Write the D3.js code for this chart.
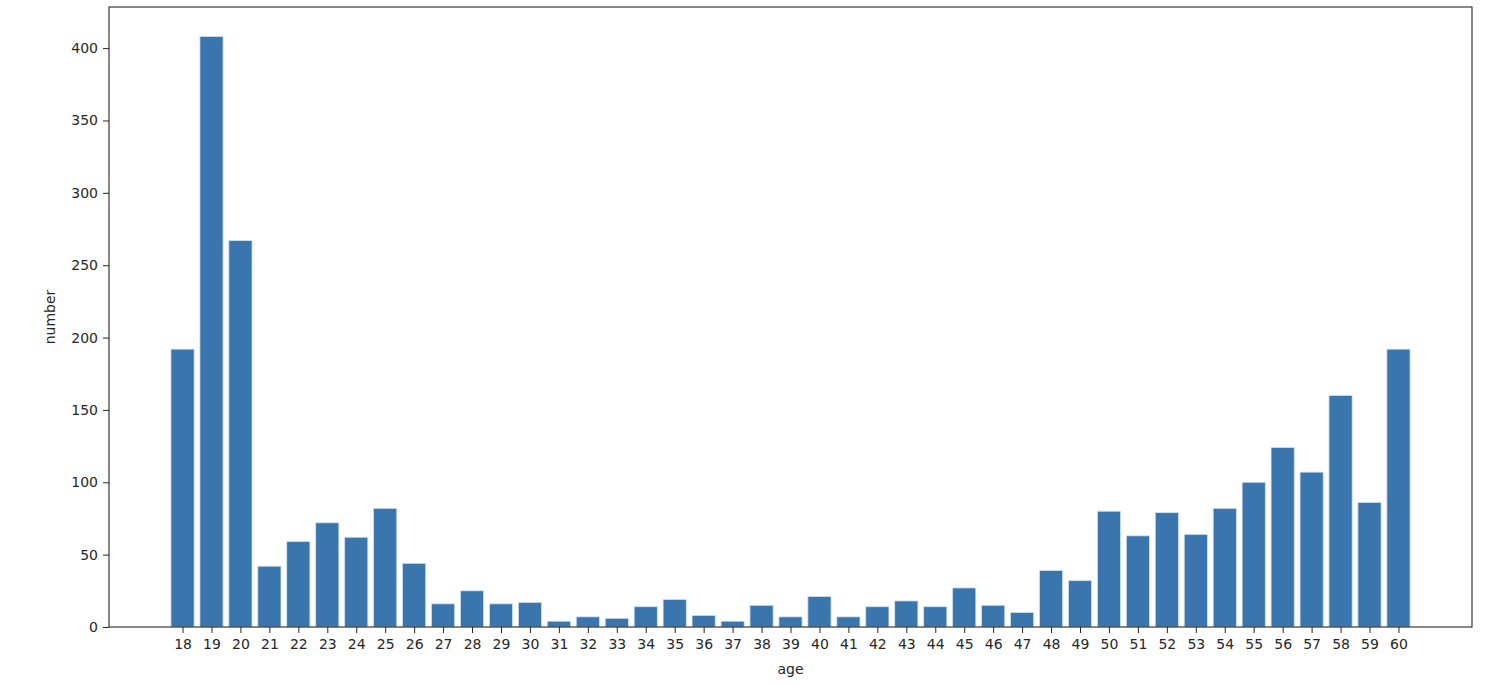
<!DOCTYPE html>
<html>
<head>
<meta charset="utf-8">
<script src="https://cdn.jsdelivr.net/npm/d3@7"></script>
<style>
  html, body { margin: 0; padding: 0; background: #fff; }
  svg text { font-family: "DejaVu Sans", sans-serif; fill: #262626; }
</style>
</head>
<body>
<svg id="chart" width="1504" height="686"></svg>
<script>
const ages = [18,19,20,21,22,23,24,25,26,27,28,29,30,31,32,33,34,35,36,37,38,39,40,41,42,43,44,45,46,47,48,49,50,51,52,53,54,55,56,57,58,59,60];
const counts = [192,408,267,42,59,72,62,82,44,16,25,16,17,4,7,6,14,19,8,4,15,7,21,7,14,18,14,27,15,10,39,32,80,63,79,64,82,100,124,107,160,86,192];
const yTicks = [0,50,100,150,200,250,300,350,400];
const xLabel = "age";
const yLabel = "number";

(function () {
const svg = d3.select("#chart");
const mLeft = 109, mRight = 1472, mTop = 7, mBottom = 627;
const barW = 0.8;

const xMin = d3.min(ages) - barW/2, xMax = d3.max(ages) + barW/2;
const xPad = (xMax - xMin) * 0.05;
const x = d3.scaleLinear().domain([xMin - xPad, xMax + xPad]).range([mLeft, mRight]);
const y = d3.scaleLinear().domain([0, d3.max(counts) * 1.05]).range([mBottom, mTop]);

const data = ages.map((a, i) => ({age: a, n: counts[i]}));

svg.append("g").selectAll("rect").data(data).enter().append("rect")
  .attr("x", d => x(d.age - barW/2))
  .attr("width", d => x(d.age + barW/2) - x(d.age - barW/2))
  .attr("y", d => y(d.n))
  .attr("height", d => y(0) - y(d.n))
  .attr("fill", "#3a75ae")
  .attr("stroke", "#cfe0f0")
  .attr("stroke-width", 0.8);

const xAxis = d3.axisBottom(x).tickValues(ages).tickFormat(d3.format("d")).tickSize(6).tickPadding(6);
const gx = svg.append("g").attr("transform", `translate(0,${mBottom})`).call(xAxis);
const yAxis = d3.axisLeft(y).tickValues(yTicks).tickFormat(d3.format("d")).tickSize(6).tickPadding(5);
const gy = svg.append("g").attr("transform", `translate(${mLeft},0)`).call(yAxis);

[gx, gy].forEach(g => {
  g.select(".domain").remove();
  g.selectAll(".tick line").attr("stroke", "#262626").attr("stroke-width", 1);
  g.selectAll(".tick text").style("font-size", "14px").attr("fill", "#262626");
});

svg.append("rect")
  .attr("x", mLeft).attr("y", mTop)
  .attr("width", mRight - mLeft).attr("height", mBottom - mTop)
  .attr("fill", "none").attr("stroke", "#262626").attr("stroke-width", 1.1);

svg.append("text")
  .attr("x", (mLeft + mRight) / 2).attr("y", 674)
  .attr("text-anchor", "middle")
  .style("font-size", "14px")
  .text(xLabel);

svg.append("text")
  .attr("transform", `translate(55,${(mTop + mBottom) / 2}) rotate(-90)`)
  .attr("text-anchor", "middle")
  .style("font-size", "14px")
  .text(yLabel);
})();
</script>
</body>
</html>
